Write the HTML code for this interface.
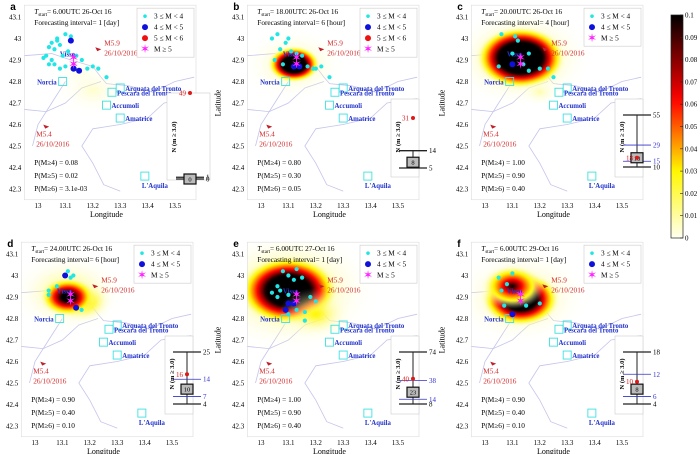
<!DOCTYPE html>
<html><head><meta charset="utf-8">
<style>
html,body{margin:0;padding:0;background:#fff;}
svg{display:block;font-family:"Liberation Serif",serif;}
</style></head>
<body>
<svg id="fig" width="700" height="454" viewBox="0 0 700 454"></svg>
<script>
// ---- data ----
const panelLetters=["a","b","c","d","e","f"];
const tStarts=["6.00UTC 26-Oct 16","18.00UTC 26-Oct 16","20.00UTC 26-Oct 16","24.00UTC 26-Oct 16","6.00UTC 27-Oct 16","6.00UTC 29-Oct 16"];
const intervals=["1 [day]","6 [hour]","4 [hour]","6 [hour]","1 [day]","1 [day]"];
const pM4=["0.08","0.80","1.00","0.90","1.00","0.90"];
const pM5=["0.02","0.30","0.90","0.40","0.90","0.40"];
const pM6=["3.1e-03","0.05","0.40","0.10","0.40","0.10"];
// box plot: low, blueLow, median, blueHigh, high, observed
const nLow=[0,5,10,4,8,4];
const nBlueLow=[null,null,15,7,14,6];
const nMedian=[0,8,18,10,23,8];
const nBlueHigh=[null,null,29,14,38,12];
const nHigh=[1,14,55,25,74,18];
const nObs=[49,31,18,16,40,10];
// heat hotspots: lon, lat, peak value, radius (lon-deg)
const heatLon=[[13.2,13.15],[13.12,13.12],[13.13,13.2,13.13],[13.12,13.17,13.12],[13.1,13.2,13.1],[13.13,13.1,13.13]];
const heatLat=[[42.76,42.84],[42.88,42.88],[42.91,42.75,42.91],[42.9,42.88,42.92],[42.93,42.82,42.93],[42.89,42.95,42.9]];
const heatPeak=[[0.012,0.008],[0.22,0.02],[0.25,0.015,0.03],[0.14,0.05,0.025],[0.22,0.03,0.03],[0.2,0.1,0.025]];
const heatRad=[[0.15,0.1],[0.1,0.2],[0.17,0.08,0.27],[0.11,0.12,0.22],[0.19,0.14,0.34],[0.15,0.12,0.26]];
// events: lon, lat, class (3: 3<=M<4, 4: 4<=M<5, 5: 5<=M<6)
const evLon=[
 [13.05,13.07,13.1,13.12,13.04,13.06,13.08,13.03,13.05,13.09,13.11,13.14,13.16,13.06,13.08,13.1,13.18,13.2,13.22,13.25,13.07,13.12,13.02,13.04,13.13,13.13,13.15],
 [13.04,13.06,13.09,13.1,13.07,13.11,13.13,13.15,13.05,13.08,13.17,13.19,13.2,13.22,13.25,13.12,13.14],
 [13.06,13.11,13.12,13.1,13.14,13.16,13.05,13.16,13.2,13.23,13.25,13.1],
 [13.12,13.11,13.14,13.08,13.05,13.05,13.17,13.13,13.15],
 [13.08,13.1,13.12,13.13,13.15,13.06,13.04,13.07,13.1,13.18,13.2,13.16,13.13,13.1,13.12,13.06,13.16,13.09,13.1],
 [13.05,13.08,13.1,13.06,13.2,13.15,13.1,13.07]
];
const evLat=[
 [42.98,43.0,43.02,43.01,42.96,42.95,42.97,42.92,42.9,42.92,42.94,42.92,42.9,42.88,42.86,42.87,42.86,42.87,42.86,42.82,42.99,42.99,42.91,42.88,42.86,42.86,42.85],
 [43.0,43.02,42.98,43.0,42.95,42.94,42.93,42.92,42.9,42.88,42.87,42.86,42.86,42.87,42.82,42.87,42.87],
 [43.02,43.01,42.99,42.93,42.88,42.93,42.87,42.85,42.86,42.86,42.82,42.88],
 [43.02,43.0,43.0,42.95,42.93,42.91,42.84,42.99,42.85],
 [43.02,43.0,42.98,43.03,42.99,42.95,42.92,42.93,42.91,42.9,42.88,42.83,42.84,42.82,42.87,42.9,42.79,42.84,42.87],
 [42.99,42.96,43.01,42.93,42.87,42.86,42.82,42.86]
];
const evCls=[
 [3,3,3,3,3,3,3,3,3,3,3,3,3,3,3,3,3,3,3,3,3,4,3,3,4,4,4],
 [3,3,3,3,3,3,3,3,3,3,3,3,3,3,3,4,4],
 [3,3,3,3,3,3,3,3,3,3,3,4],
 [3,4,3,3,3,3,3,3,4],
 [3,3,3,3,3,3,3,3,3,3,3,3,3,3,4,3,3,4,4],
 [3,3,3,3,3,3,4,3]
];
const legendRows=[4,4,3,3,3,3];
const latTicks=[43.1,43,42.9,42.8,42.7,42.6,42.5,42.4,42.3];
const lonTicks=[13,13.1,13.2,13.3,13.4,13.5];
const cbTicks=[0,0.01,0.02,0.03,0.04,0.05,0.06,0.07,0.08,0.09,0.1];
const towns=[["Visso",13.08,42.93,false],["Norcia",13.09,42.8,true],["Arquata del Tronto",13.3,42.77,true],["Pescara del Tronto",13.27,42.75,true],["Accumoli",13.25,42.69,true],["Amatrice",13.3,42.63,true],["L'Aquila",13.39,42.36,true]];
// ---- layout ----
const origins=[[38,17],[261,17],[485,17],[35,254],[261,254],[485,254]];
const SX=274, SY=215;
const NS="http://www.w3.org/2000/svg";
const fig=document.getElementById('fig');
function mk(tag,attrs,parent){const e=document.createElementNS(NS,tag);for(const k in attrs)e.setAttribute(k,attrs[k]);(parent||fig).appendChild(e);return e;}
function txt(s,attrs,parent){const e=mk('text',attrs,parent);e.textContent=s;return e;}
function hot(v){let f=Math.max(0,Math.min(1,v/0.1));let r,g,b;
 if(f<0.3){const t=f/0.3;r=255;g=255-Math.round(8*t);b=Math.round(240*(1-t));}
 else if(f<0.62){const t=(f-0.3)/0.32;r=255;g=Math.round(247*(1-t));b=0;}
 else{const t=(f-0.62)/0.38;r=Math.round(255*(1-t));g=0;b=0;}
 return `rgb(${r},${g},${b})`;}
const defs=mk('defs',{});
const borders=[
 [[12.95,42.92],[13.05,42.93],[13.12,42.9],[13.2,42.87],[13.23,42.82],[13.25,42.79],[13.33,42.78],[13.42,42.75],[13.5,42.8],[13.57,42.82]],
 [[13.23,42.8],[13.16,42.77],[13.1,42.7],[13.03,42.66],[12.95,42.67]],
 [[13.57,42.72],[13.46,42.7],[13.4,42.63],[13.3,42.6],[13.2,42.58],[13.16,42.5],[13.2,42.42],[13.24,42.32],[13.3,42.29]],
 [[13.1,42.8],[13.05,42.7],[13.0,42.6],[12.98,42.5]]
];
origins.forEach((o,p)=>{
 const [x0,y0]=o;
 const X=l=>x0+(l-13)*SX, Y=l=>y0+(43.1-l)*SY;
 const left=X(12.95), right=x0+158, top=Y(43.155), bot=Y(42.25);
 const g=mk('g',{});  
 const cp=mk('clipPath',{id:'cp'+p},defs); mk('rect',{x:left,y:top,width:right-left,height:bot-top},cp);
 const hg=mk('g',{'clip-path':`url(#cp${p})`},g);  
 borders.forEach(b=>{const l=mk('polyline',{points:b.map(q=>X(q[0])+','+Y(q[1])).join(' '),fill:'none',stroke:'#c4c4ec','stroke-width':0.8},hg);
   });
 // draw broad/faint blobs first (sorted by radius desc)
 const idx=heatLon[p].map((_,i)=>i).sort((a,b)=>heatRad[p][b]-heatRad[p][a]);
 idx.forEach(i=>{
  const hl=heatLon[p][i];
  const id=`hg${p}_${i}`; const rg=mk('radialGradient',{id:id},defs);
  for(let k=0;k<=20;k++){const t=k/20; const v=heatPeak[p][i]*Math.pow(1-t,1.4);
   const op=Math.min(1,v/0.025);
   mk('stop',{offset:t,'stop-color':hot(v),'stop-opacity':k==20?0:op.toFixed(3)},rg);}
  const e=mk('ellipse',{cx:X(hl),cy:Y(heatLat[p][i]),rx:heatRad[p][i]*SX,ry:heatRad[p][i]*SX*0.7,fill:`url(#${id})`},hg);
   
 });
 const fr=mk('rect',{x:left,y:top,width:right-left,height:bot-top,fill:'none',stroke:'#ddd','stroke-width':0.6},g);
  
 latTicks.forEach(v=>{const t=txt(String(v),{x:left-3,y:Y(v)+2.5,'font-size':7,'text-anchor':'end'},g);});
 lonTicks.forEach(v=>{const t=txt(String(v),{x:X(v),y:bot+8,'font-size':7,'text-anchor':'middle'},g);});
 let t=txt('Longitude',{x:X(13.25),y:bot+17,'font-size':8,'text-anchor':'middle'},g);
 t=txt('Latitude',{x:0,y:0,'font-size':8,'text-anchor':'middle',transform:`translate(${left-27},${Y(42.7)}) rotate(-90)`},g);
 t=txt(panelLetters[p],{x:left-14,y:top+5,'font-size':10,'font-weight':'bold','font-family':'Liberation Sans'},g);
 t=mk('text',{x:left+10,y:top+9,'font-size':7.3},g);
 t.innerHTML=`<tspan font-style="italic">T</tspan><tspan font-size="5" dy="2">start</tspan><tspan dy="-2">= ${tStarts[p]}</tspan>`;
 t=txt('Forecasting interval= '+intervals[p],{x:left+10,y:top+20,'font-size':7.3},g);
 towns.forEach(tw=>{
  if(tw[3]){const r=mk('rect',{x:X(tw[1])-4,y:Y(tw[2])-4,width:8,height:8,fill:'none',stroke:'#3fe0e0','stroke-width':0.9},g);}
  const left2=tw[0]=="Norcia";
  const tt=txt(tw[0],{x:left2?X(tw[1])-6:(tw[0]=="Visso"?X(tw[1]):(tw[0]=="L'Aquila"?X(tw[1])-3:X(tw[1])+5)),y:tw[0]=="L'Aquila"?Y(tw[2])+12:Y(tw[2])+3,'font-size':6.8,'font-weight':'bold',fill:'#2233cc','text-anchor':left2?'end':'start'},g);
  
 });
 [[13.22,42.95,'M5.9'],[13.03,42.59,'M5.4']].forEach(m=>{
  const a=mk('path',{d:`M${X(m[0])-3},${Y(m[1])-2} L${X(m[0])+3},${Y(m[1])} L${X(m[0])-1},${Y(m[1])+2}Z`,fill:'#c0202a'},g);
  const dx=m[2]=='M5.9'?6:-10, dy=m[2]=='M5.9'?-4:10;
  let q=txt(m[2],{x:X(m[0])+dx,y:Y(m[1])+dy,'font-size':7.3,fill:'#d42a2a'},g);
  q=txt('26/10/2016',{x:X(m[0])+dx,y:Y(m[1])+dy+10,'font-size':7.3,fill:'#d42a2a'},g);
 });
 evLon[p].forEach((lo,i)=>{const c=evCls[p][i];
  const e=mk('circle',{cx:X(lo),cy:Y(evLat[p][i]),r:c==3?2.1:3,fill:c==3?'#22e6e6':(c==4?'#1010dd':'#ee1111')},g);
  });
 [[13.13,42.91],[13.13,42.88]].forEach(s=>{const e=txt('✶',{x:X(s[0]),y:Y(s[1])+4,'font-size':13,fill:'#ff22ff','text-anchor':'middle','font-family':'DejaVu Sans'},g);});
 const lg=mk('g',{},g);
 const lx=x0+99, ly=top+3, nR=legendRows[p];
 mk('rect',{x:lx,y:ly,width:right-lx-2,height:nR*11+5,fill:'#fff',stroke:'#ccc','stroke-width':0.6},lg);
 const items=[['3 ≤ M < 4','#22e6e6',1.8],['4 ≤ M < 5','#1010dd',3]];
 if(nR==4)items.push(['5 ≤ M < 6','#ee1111',3]);
 items.forEach((it,i)=>{const yy=ly+8+i*11;
  const m=mk('circle',{cx:lx+8,cy:yy,r:it[2],fill:it[1]},lg);
  const q=txt(it[0],{x:lx+17,y:yy+2.5,'font-size':7.3},lg);});
 let yy=ly+8+items.length*11;
 let q=txt('✶',{x:lx+8,y:yy+4,'font-size':12,fill:'#ff22ff','text-anchor':'middle','font-family':'DejaVu Sans'},lg);
 q=txt('M ≥ 5',{x:lx+17,y:yy+2.5,'font-size':7.3},lg);
 [['P(M≥4) = ',pM4[p]],['P(M≥5) = ',pM5[p]],['P(M≥6) = ',pM6[p]]].forEach((pr,i)=>{
  const e=txt(pr[0]+pr[1],{x:left+10,y:y0+148+i*13,'font-size':7.3},g);});
 const ins=mk('g',{},g);
 let pyTop=y0+98, pyBot=y0+150, dMin=nLow[p], dMax=nHigh[p];
 if(p==0){pyTop=y0+76;pyBot=y0+162;dMax=nObs[p];}
 if(p==1){pyTop=y0+101;pyBot=y0+151;dMax=nObs[p];}
 const N=v=>pyBot-(v-dMin)/(dMax-dMin)*(pyBot-pyTop);
 const ix=p==0?x0+129:x0+130, iw=p==0?43:28;
 mk('rect',{x:ix,y:y0+(p==0?76:82),width:iw,height:(p==0?87:78),fill:'#fff',stroke:'#ccc','stroke-width':0.6},ins);
 const cx=x0+152;
 q=txt('N (m ≥ 3.0)',{x:0,y:0,'font-size':6.5,'font-weight':'bold','text-anchor':'middle',transform:`translate(${ix+9},${y0+120}) rotate(-90)`},ins);
 let l=mk('line',{x1:cx,x2:cx,y1:N(nHigh[p]),y2:N(nLow[p]),stroke:'#222','stroke-width':1},ins);
 [nHigh[p],nLow[p]].forEach(v=>{const c=mk('line',{x1:cx-14,x2:cx+14,y1:N(v),y2:N(v),stroke:'#222','stroke-width':1.3},ins);
  const tl=txt(String(v),{x:cx+16,y:N(v)+2.5,'font-size':7},ins);});
 [nBlueLow[p],nBlueHigh[p]].forEach(v=>{if(v==null)return;const c=mk('line',{x1:cx-14,x2:cx+14,y1:N(v),y2:N(v),stroke:'#3333cc','stroke-width':0.8},ins);
  const tl=txt(String(v),{x:cx+16,y:N(v)+2.5,'font-size':7,fill:'#3333cc'},ins);});
 const bx=mk('rect',{x:cx-6,y:N(nMedian[p])-5,width:12,height:10,fill:'#bbb',stroke:'#111','stroke-width':1.2},ins);
 q=txt(String(nMedian[p]),{x:cx,y:N(nMedian[p])+2.5,'font-size':6.5,'text-anchor':'middle'},ins);
 const od=mk('circle',{cx:cx,cy:N(nObs[p]),r:2,fill:'#e01818'},ins);
 q=txt(String(nObs[p]),{x:cx-4,y:N(nObs[p])+2.5,'font-size':7,fill:'#e01818','text-anchor':'end'},ins);
});
const cbx=671,cbw=12,cbTop=15,cbBot=238;
const lgd=mk('linearGradient',{id:'cbg',x1:0,y1:1,x2:0,y2:0},defs);
for(let k=0;k<=20;k++){mk('stop',{offset:k/20,'stop-color':hot(0.1*k/20)},lgd);}
const cb=mk('rect',{x:cbx,y:cbTop,width:cbw,height:cbBot-cbTop,fill:'url(#cbg)',stroke:'#222','stroke-width':0.7});

cbTicks.forEach(v=>{const y=cbBot-(v/0.1)*(cbBot-cbTop);
 mk('line',{x1:cbx+cbw-3,x2:cbx+cbw,y1:y,y2:y,stroke:'#222','stroke-width':0.6});
 const t=txt(String(v),{x:cbx+cbw+2,y:y+2.5,'font-size':7});});
</script>
</body></html>
